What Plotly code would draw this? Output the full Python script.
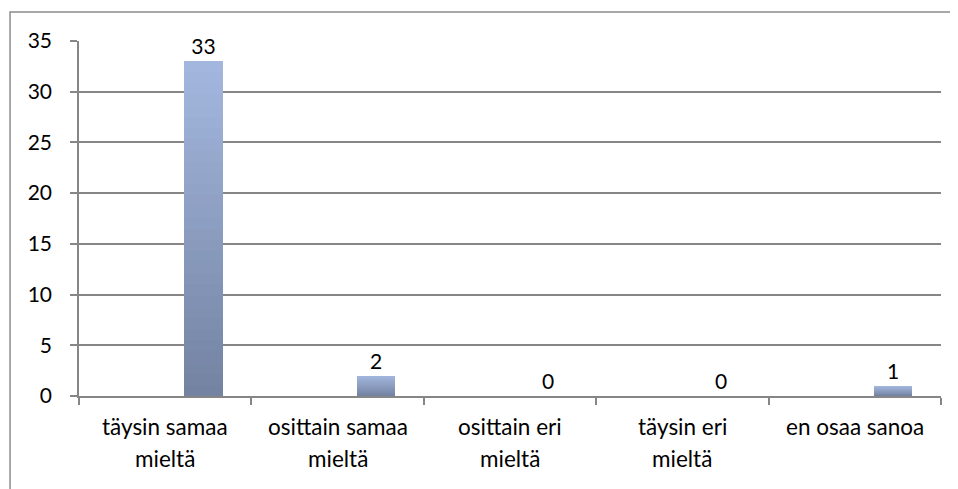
import plotly.graph_objects as go

categories = ["täysin samaa mieltä", "osittain samaa mieltä", "osittain eri mieltä",
              "täysin eri mieltä", "en osaa sanoa"]
values = [33, 2, 0, 0, 1]
label_line1 = ["täysin samaa", "osittain samaa", "osittain eri", "täysin eri", "en osaa sanoa"]
label_line2 = ["mieltä", "mieltä", "mieltä", "mieltä", ""]
y_ticks = [0, 5, 10, 15, 20, 25, 30, 35]

FONT = "Lato"
TOP = (163, 183, 222)
BOT = (116, 131, 162)
N_LAYERS = 30
BAR_W = 0.222
BAR_OFF = 0.111

fig = go.Figure()
for k in range(N_LAYERS):
    t = k / (N_LAYERS - 1)
    col = "rgb(%d,%d,%d)" % tuple(round(a + (b - a) * t) for a, b in zip(TOP, BOT))
    frac = (N_LAYERS - k) / N_LAYERS
    fig.add_trace(go.Bar(
        x=categories,
        y=[v * frac for v in values],
        width=BAR_W, offset=BAR_OFF,
        marker=dict(color=col, line=dict(width=0)),
        text=[str(v) for v in values] if k == 0 else None,
        textposition="outside" if k == 0 else "none",
        textfont=dict(family=FONT, size=21, color="#000"),
        cliponaxis=False,
        hoverinfo="skip" if k else "x+y",
        showlegend=False,
    ))

annotations = []
for c, l1, l2 in zip(categories, label_line1, label_line2):
    annotations.append(dict(x=c, xref="x", y=-0.087, yref="paper", text=l1,
                            showarrow=False, xanchor="center", yanchor="middle",
                            font=dict(family=FONT, size=22.5, color="#000")))
    if l2:
        annotations.append(dict(x=c, xref="x", y=-0.175, yref="paper", text=l2,
                                showarrow=False, xanchor="center", yanchor="middle",
                                font=dict(family=FONT, size=22.5, color="#000")))

fig.update_layout(
    width=950, height=481,
    margin=dict(l=71, r=17, t=33, b=93, pad=0),
    paper_bgcolor="white", plot_bgcolor="white",
    barmode="overlay",
    bargap=0,
    annotations=annotations,
    shapes=[dict(type="rect", xref="paper", yref="paper",
                 x0=-0.080, x1=1.2, y0=-0.5, y1=1.082,
                 line=dict(color="#8c8c8c", width=1.5), fillcolor="rgba(0,0,0,0)",
                 layer="below")],
)
fig.update_xaxes(
    type="category", showticklabels=False, showgrid=False,
    showline=True, linecolor="#868686", linewidth=1.5,
    ticks="outside", tickson="boundaries", ticklen=7, tickcolor="#868686", tickwidth=1.5,
    range=[-0.5, 4.5],
)
fig.update_yaxes(
    range=[0, 35], tickvals=y_ticks, showgrid=True, gridcolor="#868686", gridwidth=1.5,
    showline=True, linecolor="#868686", linewidth=1.5,
    ticks="outside", ticklen=7, tickcolor="#868686", tickwidth=1.5,
    tickfont=dict(family=FONT, size=21, color="#000"),
    ticklabelstandoff=14, zeroline=False,
)
fig.write_html("out.html")
